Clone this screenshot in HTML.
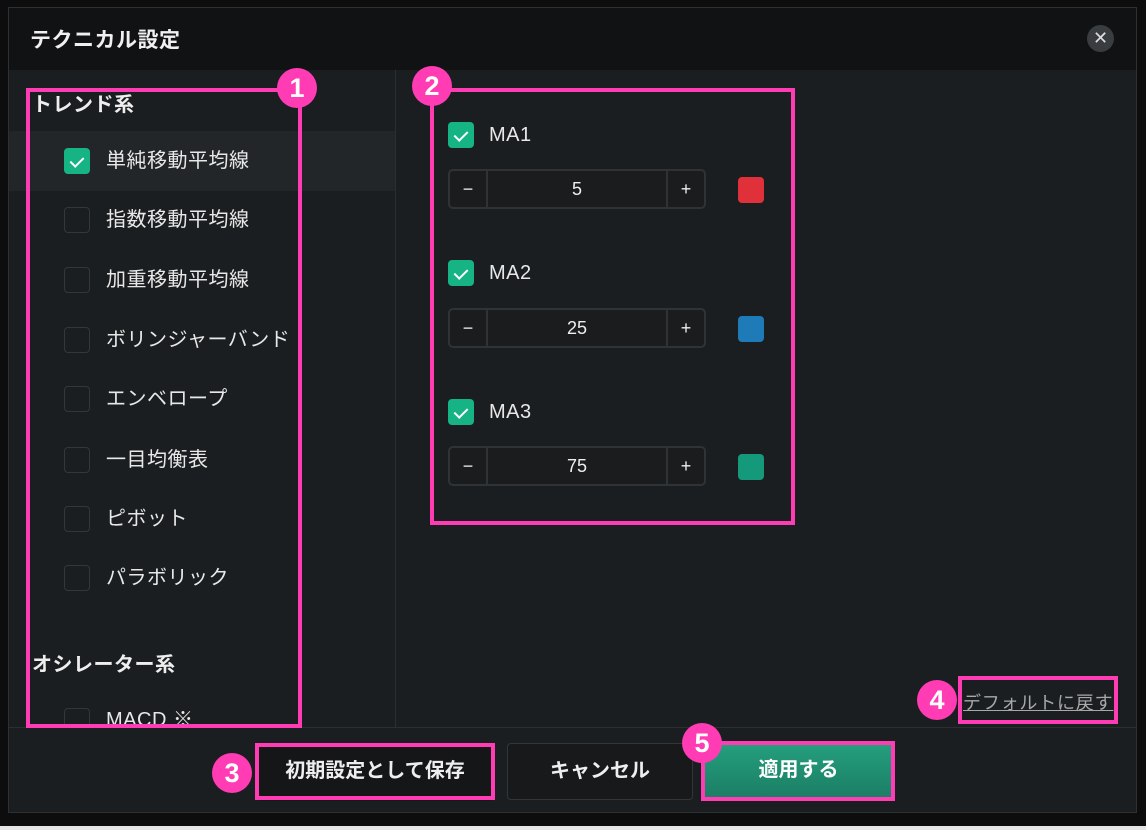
<!DOCTYPE html>
<html><head><meta charset="utf-8"><style>
*{margin:0;padding:0;box-sizing:border-box}
body{width:1146px;height:830px;background:#0d0d0d;position:relative;overflow:hidden;font-family:"Liberation Sans","Noto Sans CJK JP",sans-serif;color:#eee}
.a{position:absolute}
.dlg{left:8px;top:7px;width:1129px;height:806px;background:#1b1e20;border:1px solid #2e3133}
.hdr{left:9px;top:8px;width:1127px;height:62px;background:#111213}
.cb{position:absolute;width:26px;height:26px;border-radius:4px;border:1px solid #33373a;background:#1b1e20}
.cb.on{background:#16b384;border-color:#16b384}
.cb.on::after{content:"";position:absolute;left:8px;top:5px;width:6px;height:11px;border:solid #fff;border-width:0 2px 2px 0;transform:rotate(45deg)}
.lt{position:absolute;left:106px;font-size:20px;color:#e8e8e8;line-height:24px;letter-spacing:0.5px}
.pk{position:absolute;border:4px solid #ff3cb4}
.bd{position:absolute;width:40px;height:40px;border-radius:50%;background:#ff3cb4;color:#fff;font-weight:bold;font-size:27px;text-align:center;line-height:40px}
.st{position:absolute;left:448px;width:258px;height:40px;border:2px solid #303335;border-radius:5px;background:#1a1c1e}
.st span{position:absolute;top:0;height:36px;line-height:36px;text-align:center;font-size:18px;color:#eee}
.sw{position:absolute;left:738px;width:26px;height:26px;border-radius:4px}
.btn{position:absolute;height:57px;border-radius:4px;font-size:20px;font-weight:bold;text-align:center;line-height:55px}
</style></head><body>
<div class="a dlg"></div>
<div class="a hdr"></div>
<div class="a" style="left:30px;top:24px;font-size:21px;font-weight:bold;color:#f0f0f0;letter-spacing:0.5px">テクニカル設定</div>
<div class="a" style="left:1087px;top:25px;width:27px;height:27px;border-radius:50%;background:#3a3d40;color:#ddd;text-align:center;line-height:27px;font-size:18px">✕</div>
<div class="a" style="left:395px;top:70px;width:1px;height:657px;background:#2c2f31"></div>
<div class="a" style="left:9px;top:131px;width:386px;height:60px;background:#232629"></div>
<div class="a" style="left:32px;top:88px;font-size:20px;font-weight:bold;letter-spacing:0.5px">トレンド系</div>
<div class="cb on" style="left:64px;top:148px"></div><div class="lt" style="top:149px">単純移動平均線</div>
<div class="cb" style="left:64px;top:207px"></div><div class="lt" style="top:208px">指数移動平均線</div>
<div class="cb" style="left:64px;top:267px"></div><div class="lt" style="top:268px">加重移動平均線</div>
<div class="cb" style="left:64px;top:327px"></div><div class="lt" style="top:328px">ボリンジャーバンド</div>
<div class="cb" style="left:64px;top:386px"></div><div class="lt" style="top:387px">エンベロープ</div>
<div class="cb" style="left:64px;top:447px"></div><div class="lt" style="top:448px">一目均衡表</div>
<div class="cb" style="left:64px;top:506px"></div><div class="lt" style="top:507px">ピボット</div>
<div class="cb" style="left:64px;top:565px"></div><div class="lt" style="top:566px">パラボリック</div>
<div class="a" style="left:32px;top:648px;font-size:20px;font-weight:bold;letter-spacing:0.5px">オシレーター系</div>
<div class="a" style="left:9px;top:700px;width:386px;height:27px;overflow:hidden"><div class="cb" style="left:55px;top:8px"></div><div class="lt" style="left:97px;top:8px">MACD ※</div></div>
<div class="a" style="left:9px;top:727px;width:1127px;height:1px;background:#2c2f31"></div>

<div class="cb on" style="left:448px;top:122px"></div><div class="lt" style="left:489px;top:123px">MA1</div>
<div class="st" style="top:169px"><span style="left:0;width:38px;border-right:2px solid #303335">−</span><span style="left:38px;width:178px">5</span><span style="left:216px;width:38px;border-left:2px solid #303335">+</span></div>
<div class="sw" style="top:177px;background:#e0303a"></div>
<div class="cb on" style="left:448px;top:260px"></div><div class="lt" style="left:489px;top:261px">MA2</div>
<div class="st" style="top:308px"><span style="left:0;width:38px;border-right:2px solid #303335">−</span><span style="left:38px;width:178px">25</span><span style="left:216px;width:38px;border-left:2px solid #303335">+</span></div>
<div class="sw" style="top:316px;background:#1f7ab8"></div>
<div class="cb on" style="left:448px;top:399px"></div><div class="lt" style="left:489px;top:400px">MA3</div>
<div class="st" style="top:446px"><span style="left:0;width:38px;border-right:2px solid #303335">−</span><span style="left:38px;width:178px">75</span><span style="left:216px;width:38px;border-left:2px solid #303335">+</span></div>
<div class="sw" style="top:454px;background:#14997a"></div>

<div class="a" style="left:963px;top:689px;font-size:18px;letter-spacing:0.8px;color:#a8a8a8;text-decoration:underline">デフォルトに戻す</div>

<div class="btn" style="left:257px;top:744px;width:236px;background:#141618;color:#eee">初期設定として保存</div>
<div class="btn" style="left:507px;top:743px;width:186px;border:1px solid #333638;background:#17191b;color:#eee">キャンセル</div>
<div class="btn" style="left:705px;top:743px;width:187px;background:linear-gradient(#24a07e,#1b7c64);color:#fff">適用する</div>

<div class="pk" style="left:26px;top:88px;width:276px;height:640px"></div>
<div class="pk" style="left:430px;top:88px;width:365px;height:437px"></div>
<div class="pk" style="left:255px;top:743px;width:240px;height:57px"></div>
<div class="pk" style="left:958px;top:676px;width:160px;height:48px"></div>
<div class="pk" style="left:701px;top:741px;width:194px;height:60px"></div>
<div class="bd" style="left:277px;top:68px">1</div>
<div class="bd" style="left:412px;top:66px">2</div>
<div class="bd" style="left:212px;top:753px">3</div>
<div class="bd" style="left:917px;top:680px">4</div>
<div class="bd" style="left:682px;top:723px">5</div>
<div class="a" style="left:0;top:826px;width:1146px;height:4px;background:#e6e6e6"></div>
</body></html>
